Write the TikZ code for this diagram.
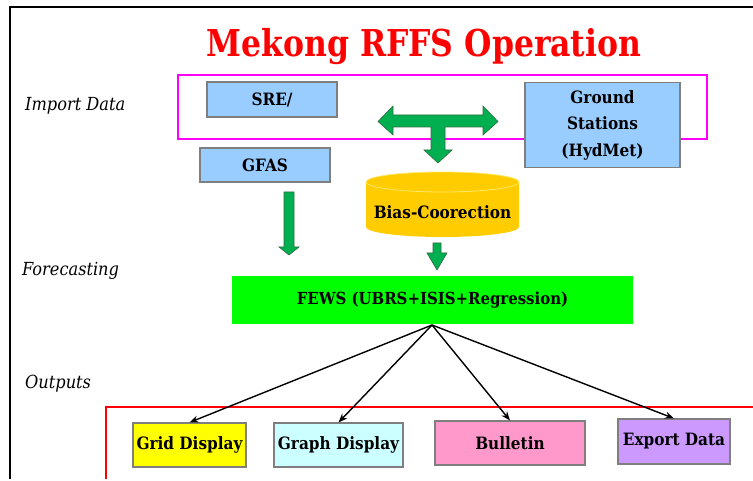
\documentclass[tikz,border=0pt]{standalone}
\usepackage{fontspec}
\setmainfont{DejaVu Serif Condensed}
\usetikzlibrary{arrows.meta}
\definecolor{boxblue}{HTML}{99CCFF}
\definecolor{boxgray}{HTML}{7F7F7F}
\definecolor{arrgreen}{HTML}{00B050}
\definecolor{arredge}{HTML}{2E6B3E}
\definecolor{fewsgreen}{HTML}{00FF00}
\definecolor{cylgold}{HTML}{FFCC00}
\definecolor{cyltop}{HTML}{FFE866}
\definecolor{gridyellow}{HTML}{FFFF00}
\definecolor{graphcyan}{HTML}{CCFFFF}
\definecolor{bullpink}{HTML}{FF99CC}
\definecolor{exppurple}{HTML}{CC99FF}
\definecolor{titlered}{HTML}{FF0000}
\definecolor{magframe}{HTML}{FF00FF}
\begin{document}
\begin{tikzpicture}[x=1pt,y=-1pt,
  databox/.style={draw=boxgray,line width=1.1pt,inner sep=0pt,
    font=\fontsize{17}{26.5}\selectfont\bfseries,align=center},
  sidelabel/.style={anchor=west,inner sep=0pt,font=\fontsize{18}{24}\selectfont\itshape},
  blockarrow/.style={fill=arrgreen,draw=arredge,line width=0.6pt,line join=miter},
  outarrow/.style={draw=black,line width=1.4pt,-{Stealth[length=9pt,width=7pt]}}]
\useasboundingbox (0,0) rectangle (753,481);
% frame
\draw[line width=1.5pt] (753,7) -- (10,7) -- (10,479);
% title
\node[text=titlered,font=\fontsize{37}{45}\selectfont\bfseries,xscale=0.945,transform shape] (title) at (424,47) {Mekong RFFS Operation};
% side labels
\node[sidelabel] (limport) at (25,106) {Import Data};
\node[sidelabel] (lfore) at (22,271) {Forecasting};
\node[sidelabel] (lout) at (25,384) {Outputs};
% import frame
\draw[magframe,line width=1.8pt] (178,75) rectangle (707,139);
% boxes
\node[databox,fill=boxblue,minimum width=130pt,minimum height=35pt] (sre) at (272,99.5) {SRE/};
\node[databox,fill=boxblue,minimum width=130pt,minimum height=34pt] (gfas) at (265,165) {GFAS};
\node[databox,fill=boxblue,minimum width=155pt,minimum height=85pt] (ground) at (602.5,125) {Ground\\Stations\\(HydMet)};
% T double arrow
\draw[blockarrow] (378,121.5) -- (393,106) -- (393,115) -- (483,115) -- (483,106) -- (498,121.5)
  -- (483,135) -- (483,127) -- (445,127) -- (445,150) -- (452,150) -- (438,163) -- (424,150)
  -- (431,150) -- (431,127) -- (393,127) -- (393,135) -- cycle;
% cylinder
\fill[cylgold] (366,182) -- (366,227) arc[start angle=180,end angle=360,x radius=76.5pt,y radius=10pt]
  -- (519,182) arc[start angle=0,end angle=-180,x radius=76.5pt,y radius=10pt] -- cycle;
\draw[cyltop,line width=0.8pt,fill=cylgold] (442.5,182) ellipse[x radius=76.5pt,y radius=10pt];
\node[font=\fontsize{17}{22}\selectfont\bfseries,inner sep=0pt] (bias) at (442.5,212) {Bias-Coorection};
% GFAS arrow
\draw[blockarrow] (284,192) -- (294,192) -- (294,247) -- (299,247) -- (289,255) -- (279,247) -- (284,247) -- cycle;
% Bias arrow
\draw[blockarrow] (433,243) -- (441,243) -- (441,253) -- (447,253) -- (437,270) -- (427,253) -- (433,253) -- cycle;
% FEWS
\node[fill=fewsgreen,minimum width=401pt,minimum height=48pt,inner sep=0pt,
  font=\fontsize{16.6}{22}\selectfont\bfseries] (fews) at (432.5,300) {FEWS (UBRS+ISIS+Regression)};
% outputs frame
\draw[titlered,line width=2pt] (106,479) -- (106,407) -- (753,407);
% output boxes
\node[databox,fill=gridyellow,minimum width=113pt,minimum height=44pt] (grid) at (189.5,445) {Grid Display};
\node[databox,fill=graphcyan,minimum width=129pt,minimum height=44pt] (graph) at (338.5,445) {Graph Display};
\node[databox,fill=bullpink,minimum width=150pt,minimum height=44pt] (bull) at (510,443) {Bulletin};
\node[databox,fill=exppurple,minimum width=112pt,minimum height=45pt] (exp) at (674,441.5) {Export Data};
% connectors
\coordinate (src) at (432,325);
\draw[outarrow] (src) -- (grid.north);
\draw[outarrow] (src) -- (graph.north);
\draw[outarrow] (src) -- (bull.north);
\draw[outarrow] (src) -- (exp.north);
\end{tikzpicture}
\end{document}
